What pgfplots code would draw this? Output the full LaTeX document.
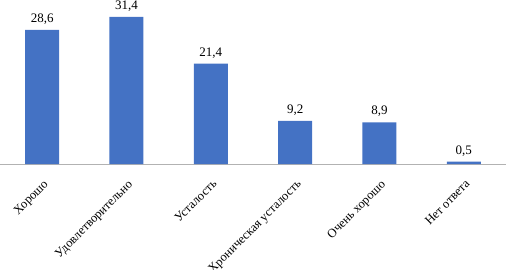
\documentclass[border=0pt]{standalone}
\usepackage{pgfplots}
\pgfplotsset{compat=1.18}
\usepackage{fontspec}
\setmainfont{Liberation Serif}
\definecolor{barblue}{HTML}{4472C4}
\begin{document}
\begin{tikzpicture}
\begin{axis}[
  scale only axis,
  width=506pt, height=164pt,
  xmin=-0.5, xmax=5.5, ymin=0, ymax=35,
  axis y line=none,
  axis x line*=bottom,
  x axis line style={draw=black!30, line width=0.8pt},
  ybar, bar width=34pt,
  xtick=data,
  xticklabels={Хорошо, Удовлетворительно, Усталость, Хроническая усталость, Очень хорошо, Нет ответа},
  major tick length=0pt,
  x tick label style={rotate=45, anchor=north east, font=\fontsize{12.5}{14}\selectfont, inner sep=1pt, xshift=-9pt, yshift=-10pt},
  nodes near coords={\pgfmathprintnumber[fixed,fixed zerofill,precision=1,use comma,assume math mode=true]{\pgfplotspointmeta}},
  every node near coord/.append style={font=\fontsize{13}{14}\selectfont, black, yshift=2pt},
  clip=false,
]
\addplot[fill=barblue, draw=none] coordinates {(0,28.6) (1,31.4) (2,21.4) (3,9.2) (4,8.9) (5,0.5)};
\end{axis}
\pgfresetboundingbox
\path (0pt,-106pt) rectangle (506pt,164pt);
\end{tikzpicture}
\end{document}
